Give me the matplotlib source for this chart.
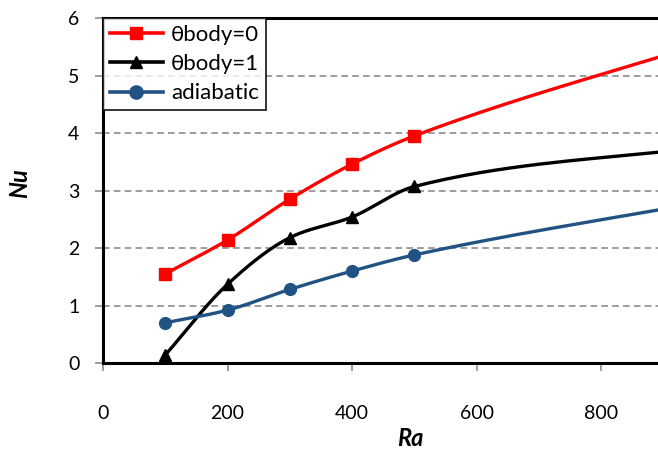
"""
Nu against Ra for three body conditions, redrawn in the style of an Excel chart.
"""
import numpy as np
import matplotlib
matplotlib.use("Agg")
import matplotlib.pyplot as plt

#########################################################
# Data
#########################################################
ra = [100, 200, 300, 400, 500, 1000]
nu_body0 = [1.55, 2.14, 2.85, 3.46, 3.95, 5.68]
nu_body1 = [0.14, 1.37, 2.18, 2.54, 3.07, 3.80]
nu_adiab = [0.70, 0.92, 1.28, 1.60, 1.88, 2.87]
labels = ["\u03b8body=0", "\u03b8body=1", "adiabatic"]

x_ticks = [0, 200, 400, 600, 800]
y_ticks = [0, 1, 2, 3, 4, 5, 6]

COLOR_RED = "#FF0000"
COLOR_BLACK = "#000000"
COLOR_BLUE = "#215284"
COLOR_GRID = "#8C8C8C"

plt.rcParams["font.family"] = ["Lato", "DejaVu Sans"]


def smooth(xs, ys, n=40):
    # cubic Hermite curve through the points (smoothed line look)
    xs = np.asarray(xs, float)
    ys = np.asarray(ys, float)
    d = np.diff(ys) / np.diff(xs)
    m = np.empty_like(ys)
    # geometric mean of the neighbouring slopes (all positive here)
    m[1:-1] = np.sqrt(d[:-1] * d[1:])
    m[0] = d[0]
    m[-1] = d[-1]
    t = np.linspace(0, 1, n)
    h00 = 2 * t ** 3 - 3 * t ** 2 + 1
    h10 = t ** 3 - 2 * t ** 2 + t
    h01 = -2 * t ** 3 + 3 * t ** 2
    h11 = t ** 3 - t ** 2
    out_x, out_y = [], []
    for i in range(len(xs) - 1):
        h = xs[i + 1] - xs[i]
        out_x.extend(xs[i] + h * t)
        out_y.extend(h00 * ys[i] + h10 * h * m[i]
                     + h01 * ys[i + 1] + h11 * h * m[i + 1])
    return np.array(out_x), np.array(out_y)


#########################################################
# Chart
#########################################################
fig = plt.figure(figsize=(6.58, 4.58), dpi=100)
ax = fig.add_axes([0.1565, 0.2074, 0.8435, 0.7533])

series = [
    (nu_body0, COLOR_RED, "s", 8),
    (nu_body1, COLOR_BLACK, "^", 8),
    (nu_adiab, COLOR_BLUE, "o", 8.5),
]
for (vals, color, marker, ms), label in zip(series, labels):
    sx, sy = smooth(ra, vals)
    ax.plot(sx, sy, color=color, linewidth=2.4, zorder=3)
    ax.plot(ra[:5], vals[:5], linestyle="none", marker=marker,
            markersize=ms, color=color, zorder=4)
    # legend proxy
    ax.plot([], [], color=color, linewidth=2.6, marker=marker,
            markersize=ms + 1, label=label)

ax.set_xlim(0, 891)
ax.set_ylim(0, 6)
ax.set_xticks(x_ticks)
ax.set_yticks(y_ticks)
ax.tick_params(labelsize=14, colors=COLOR_GRID, labelcolor="black",
               length=6, width=1.2, direction="out")
ax.tick_params(axis="y", pad=11)
ax.tick_params(axis="x", pad=24)

ax.grid(axis="y", color=COLOR_GRID, linestyle=(0, (4, 2.5)), linewidth=1.2)
ax.set_axisbelow(True)

for side in ["left", "bottom", "top"]:
    ax.spines[side].set_color("black")
    ax.spines[side].set_linewidth(2.2)
ax.spines["right"].set_visible(False)

ax.set_xlabel("Ra", fontsize=17, fontweight="bold", fontstyle="italic")
ax.set_ylabel("Nu", fontsize=17, fontweight="bold", fontstyle="italic")
ax.yaxis.set_label_coords(-0.13, 0.52)
ax.xaxis.set_label_coords(0.553, -0.185)

leg = ax.legend(loc="upper left", fontsize=16, frameon=True, fancybox=False,
                edgecolor="black", borderaxespad=0.0, handlelength=2.4,
                borderpad=0.3, labelspacing=0.42, handletextpad=0.35)
leg.get_frame().set_linewidth(1.4)

fig.savefig("out.png", dpi=100)
